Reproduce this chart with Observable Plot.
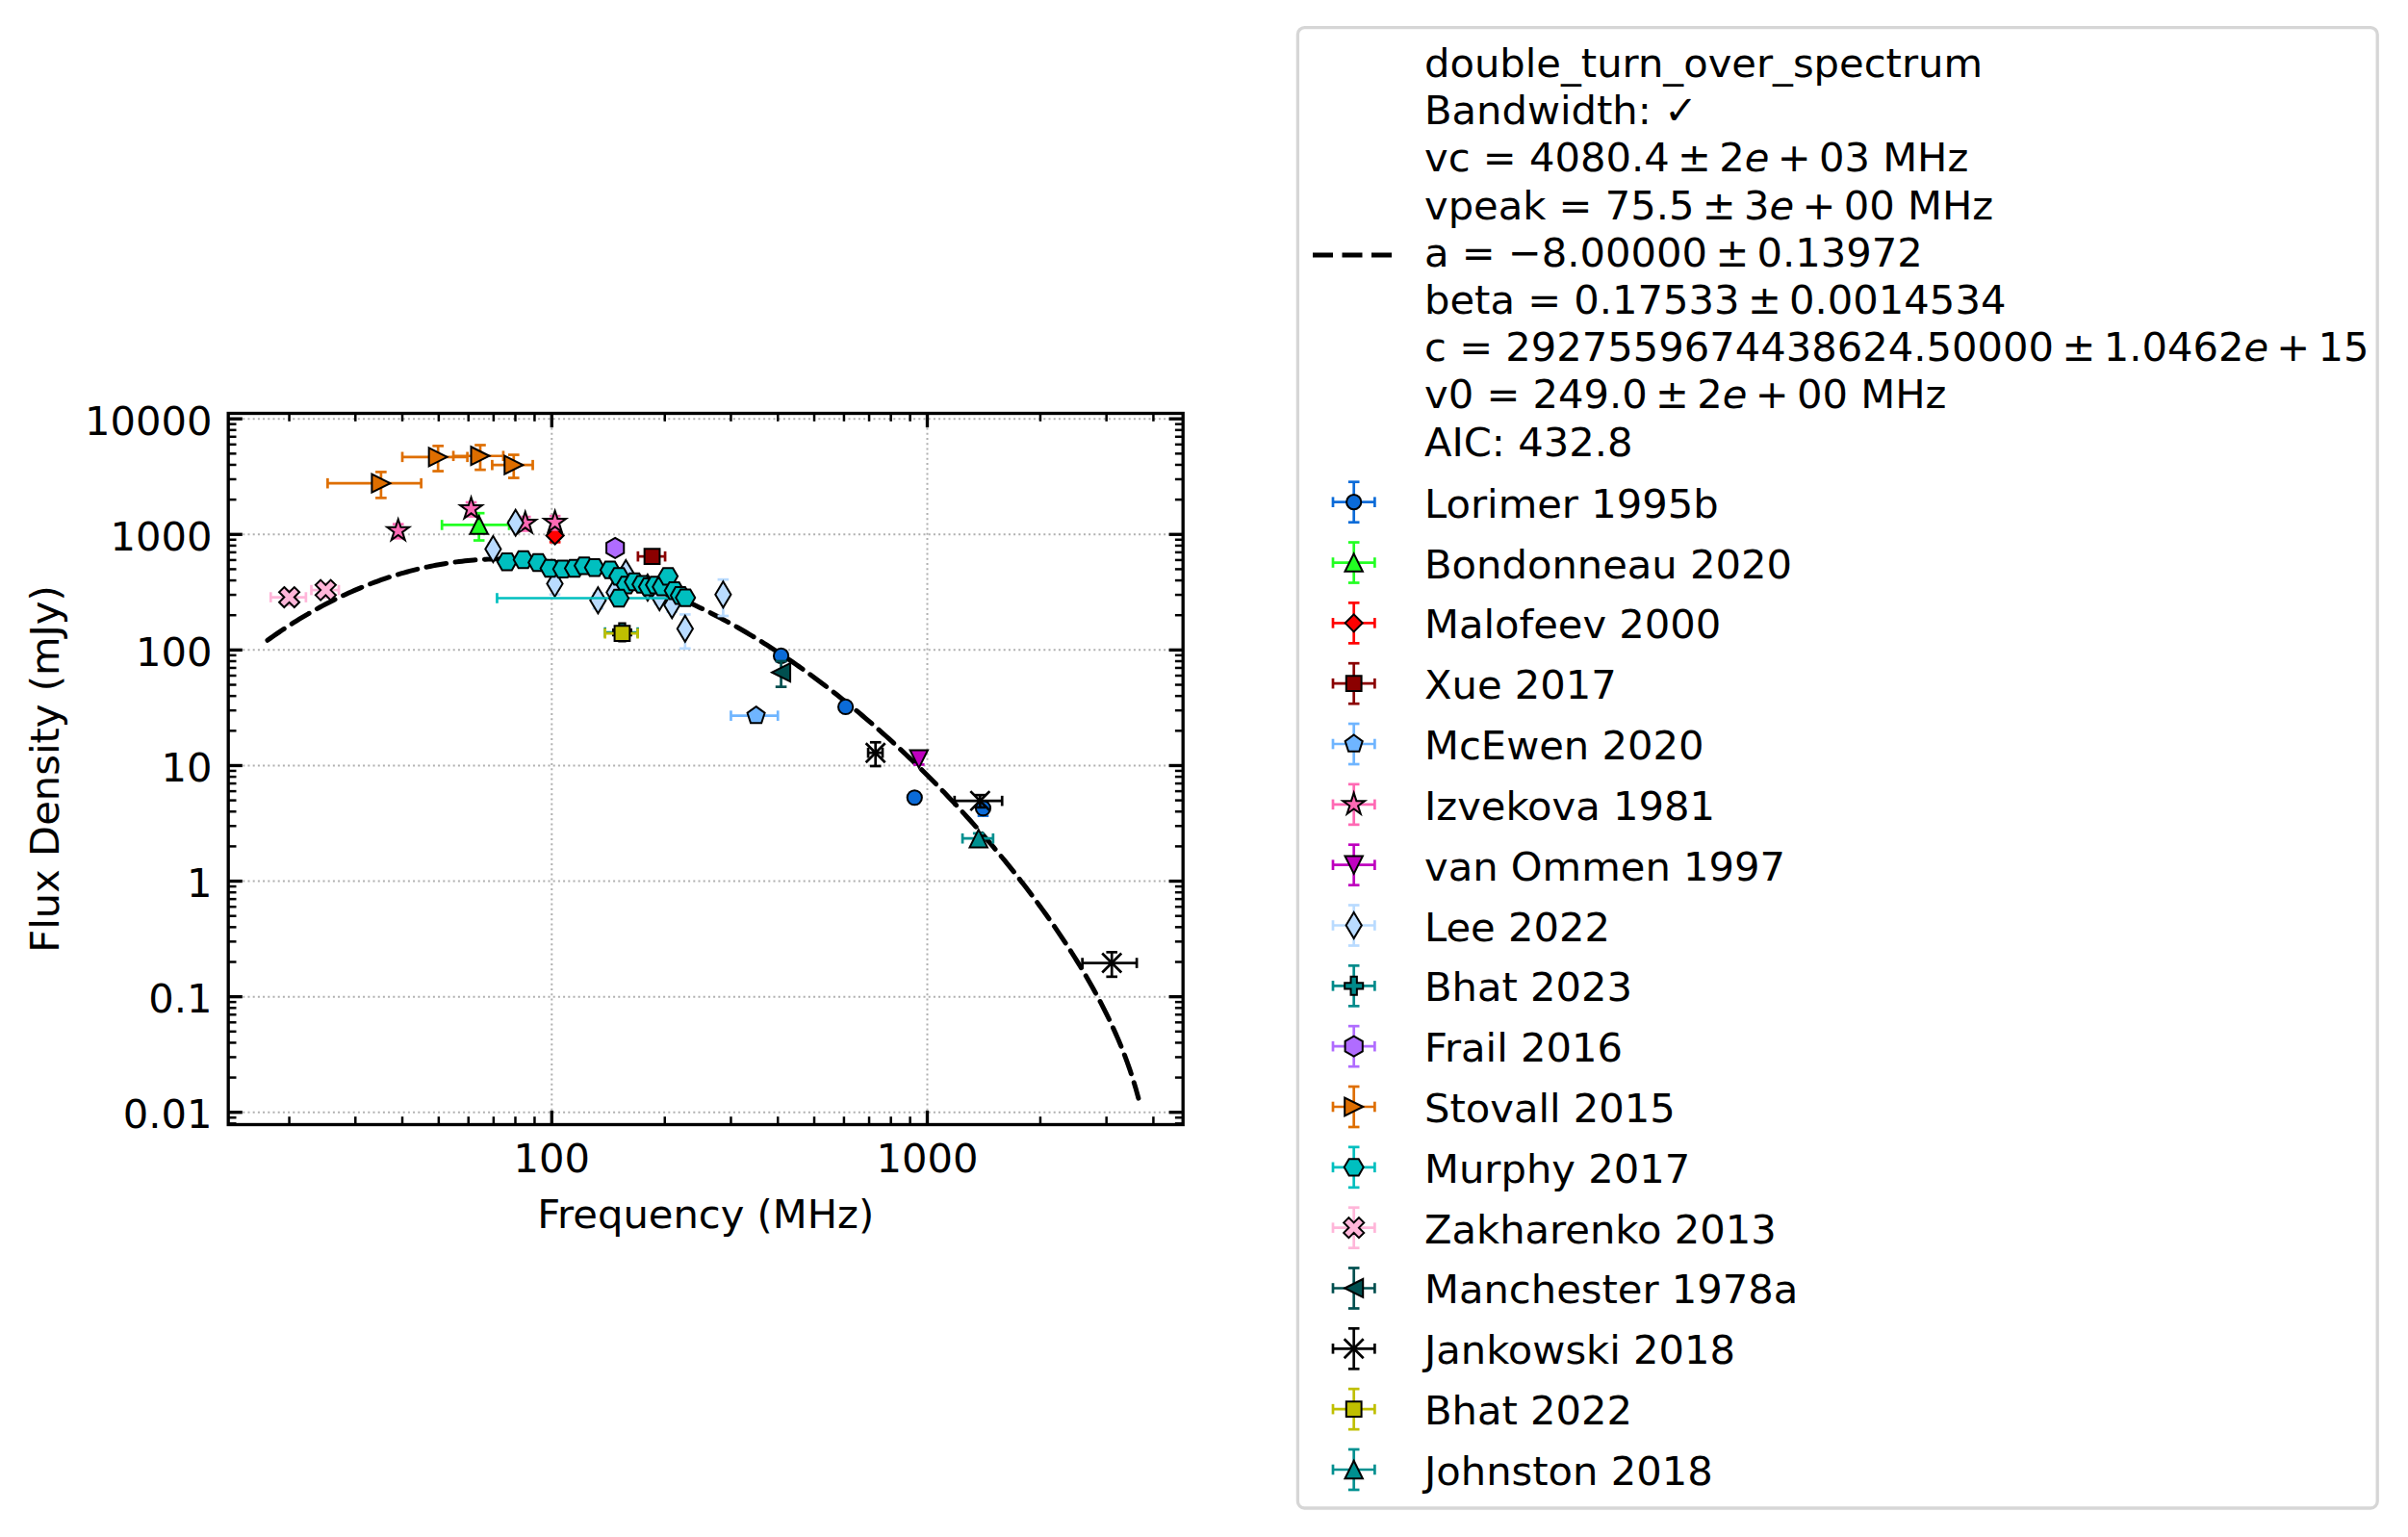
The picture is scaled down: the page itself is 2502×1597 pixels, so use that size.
<!DOCTYPE html>
<html>
<head>
<meta charset="utf-8">
<script src="https://cdn.jsdelivr.net/npm/d3@7"></script>
<script src="https://cdn.jsdelivr.net/npm/@observablehq/plot@0.6"></script>
<style>
  html, body { margin: 0; padding: 0; background: #fff; }
  body { width: 2502px; height: 1597px; position: relative; overflow: hidden; font-family: "DejaVu Sans", sans-serif; }
  #chart { position: absolute; left: 0; top: 0; }
  #legend { position: absolute; left: 0; top: 0; pointer-events: none; }
</style>
</head>
<body>
<div id="chart"></div>
<svg id="legend" width="2502" height="1597"></svg>
<script>
// Flux density measurements per catalogue:
// [frequency (MHz), flux density (mJy), flux error (mJy), half bandwidth (MHz)]
const lorimer1995b = [[408, 89, 9, 0], [606, 32.2, 3, 0], [925, 5.28, 0.5, 0], [1408, 4.28, 0.6, 0]];
const bondonneau2020 = [[64, 1207, 320, 13]];
const malofeev2000 = [[102, 977, 120, 1.5]];
const xue2017 = [[185, 645, 60, 15.36]];
const mcewen2020 = [[350, 27, 3, 50]];
const izvekova1981 = [[39, 1076, 150, 0], [61, 1662, 230, 0], [85, 1247, 170, 0], [102, 1271, 170, 0]];
const vanOmmen1997 = [[950, 11.4, 1.2, 0]];
const lee2022 = [[69.8, 747, 90, 0], [80.1, 1261, 150, 0], [101.9, 375, 73, 0], [132.8, 269, 40, 0],
                 [146.8, 315, 40, 0], [157.5, 462, 50, 0], [180, 347, 40, 0], [193.6, 286, 35, 0],
                 [209, 244, 30, 0], [226.5, 153, 50, 0], [286, 302, 105, 0]];
const bhat2023 = [[154, 142, 14, 15.36]];
const frail2016 = [[147.5, 762, 76, 0]];
const stovall2015 = [[35.1, 2768, 700, 9.8], [49.8, 4677, 1150, 9.8], [64.5, 4774, 1150, 9.8], [79.2, 3983, 900, 9.8]];
const murphy2017 = [[76, 579, 40, 0], [84, 605, 40, 0], [92, 571, 40, 0], [99, 509, 35, 0], [107, 502, 35, 0],
                    [115, 509, 35, 0], [122, 536, 35, 0], [130, 516, 35, 0], [143, 493, 30, 0], [151, 434, 30, 0],
                    [158, 365, 25, 0], [166, 389, 25, 0], [174, 370, 25, 0], [181, 352, 25, 0], [189, 365, 25, 0],
                    [197, 352, 25, 0], [204, 434, 30, 0], [212, 326, 25, 0], [220, 296, 20, 0], [227, 283, 20, 0],
                    [151, 281, 28, 79.5]];
const zakharenko2013 = [[20, 286, 40, 2.15], [25, 330, 45, 2.1]];
const manchester1978a = [[408, 64, 16, 0]];
const jankowski2018 = [[728, 12.9, 3, 32], [1382, 4.95, 0.6, 200], [3100, 0.196, 0.047, 512]];
const bhat2022 = [[154, 139, 14, 15.36]];
const johnston2018 = [[1369, 2.34, 0.25, 128]];

// Catalogue names, in plotting (and legend) order
const catalogueNames = ["Lorimer 1995b", "Bondonneau 2020", "Malofeev 2000", "Xue 2017", "McEwen 2020",
  "Izvekova 1981", "van Ommen 1997", "Lee 2022", "Bhat 2023", "Frail 2016", "Stovall 2015", "Murphy 2017",
  "Zakharenko 2013", "Manchester 1978a", "Jankowski 2018", "Bhat 2022", "Johnston 2018"];
const catalogueData = [lorimer1995b, bondonneau2020, malofeev2000, xue2017, mcewen2020, izvekova1981,
  vanOmmen1997, lee2022, bhat2023, frail2016, stovall2015, murphy2017, zakharenko2013, manchester1978a,
  jankowski2018, bhat2022, johnston2018];

// Fitted double turn-over spectrum parameters
const fitVc = 4080.4;
const fitVpeak = 75.5;
const fitA = -8.0;
const fitBeta = 0.17533;
const fitC = 2927559674438624.5;
const fitV0 = 249.0;
const fitFreqRange = [17.5, 3650];
// "|" toggles italic; "~" is a thin math space around binary operators
const fitLegendLines = [
  "double_turn_over_spectrum",
  "Bandwidth: \u2713",
  "vc = 4080.4~\u00b1~2|e|~+~03 MHz",
  "vpeak = 75.5~\u00b1~3|e|~+~00 MHz",
  "a = \u22128.00000~\u00b1~0.13972",
  "beta = 0.17533~\u00b1~0.0014534",
  "c = 2927559674438624.50000~\u00b1~1.0462|e|~+~15",
  "v0 = 249.0~\u00b1~2|e|~+~00 MHz",
  "AIC: 432.8"
];

// Axis ticks
const xMajorTicks = [100, 1000];
const xTickLabels = ["100", "1000"];
const yMajorTicks = [0.01, 0.1, 1, 10, 100, 1000, 10000];
const yTickLabels = ["0.01", "0.1", "1", "10", "100", "1000", "10000"];

// ---------------------------------------------------------------- styling
const xDomain = [13.76, 4797];
const yDomain = [0.00783, 11150];
const FONT = 41.67;

const styles = {
  "Lorimer 1995b":    {color: "#0b6bd8", shape: "o", r: 7.6},
  "Bondonneau 2020":  {color: "#22ff22", shape: "^", r: 9.2},
  "Malofeev 2000":    {color: "#ff0000", shape: "D", r: 9},
  "Xue 2017":         {color: "#8b0000", shape: "s", r: 7.9},
  "McEwen 2020":      {color: "#6fb5ff", shape: "p", r: 9.5},
  "Izvekova 1981":    {color: "#ff69b4", shape: "*", r: 12},
  "van Ommen 1997":   {color: "#bf00bf", shape: "v", r: 9.2},
  "Lee 2022":         {color: "#b9dbff", shape: "d", r: 13.5},
  "Bhat 2023":        {color: "#008b8b", shape: "P", r: 9.5},
  "Frail 2016":       {color: "#b06cff", shape: "h", r: 10.5},
  "Stovall 2015":     {color: "#de6e00", shape: ">", r: 9.5},
  "Murphy 2017":      {color: "#00bfbf", shape: "H", r: 10},
  "Zakharenko 2013":  {color: "#ffb6d9", shape: "X", r: 10.5},
  "Manchester 1978a": {color: "#004f4f", shape: "<", r: 9.5},
  "Jankowski 2018":   {color: "#000000", shape: "x", r: 10},
  "Bhat 2022":        {color: "#bfbf00", shape: "s", r: 7.9},
  "Johnston 2018":    {color: "#009090", shape: "^", r: 9.2}
};

// Marker outlines (matplotlib-like), drawn with half-size r
function poly(ctx, pts) {
  ctx.moveTo(pts[0][0], pts[0][1]);
  for (let i = 1; i < pts.length; ++i) ctx.lineTo(pts[i][0], pts[i][1]);
  ctx.closePath();
}
function regular(n, r, start) {
  return d3.range(n).map(k => {
    const a = (start + k * 360 / n) * Math.PI / 180;
    return [r * Math.cos(a), r * Math.sin(a)];
  });
}
const paths = {
  "o": (c, r) => { c.moveTo(r, 0); c.arc(0, 0, r, 0, 2 * Math.PI); },
  "^": (c, r) => poly(c, [[0, -r], [r, r], [-r, r]]),
  "v": (c, r) => poly(c, [[0, r], [r, -r], [-r, -r]]),
  ">": (c, r) => poly(c, [[r, 0], [-r, -r], [-r, r]]),
  "<": (c, r) => poly(c, [[-r, 0], [r, -r], [r, r]]),
  "D": (c, r) => poly(c, [[0, -r], [r, 0], [0, r], [-r, 0]]),
  "d": (c, r) => poly(c, [[0, -r], [0.6 * r, 0], [0, r], [-0.6 * r, 0]]),
  "s": (c, r) => poly(c, [[-r, -r], [r, -r], [r, r], [-r, r]]),
  "p": (c, r) => poly(c, regular(5, r, -90)),
  "h": (c, r) => poly(c, regular(6, r, -90)),
  "H": (c, r) => poly(c, regular(6, r, 0)),
  "*": (c, r) => poly(c, d3.range(10).map(k => {
         const a = (-90 + k * 36) * Math.PI / 180, rr = k % 2 ? r * 0.381966 : r;
         return [rr * Math.cos(a), rr * Math.sin(a)];
       })),
  "P": (c, r) => { const t = r / 3; poly(c, [[-t, -r], [t, -r], [t, -t], [r, -t], [r, t], [t, t], [t, r], [-t, r], [-t, t], [-r, t], [-r, -t], [-t, -t]]); },
  "X": (c, r) => poly(c, [[-0.5, -1], [0, -0.5], [0.5, -1], [1, -0.5], [0.5, 0], [1, 0.5], [0.5, 1], [0, 0.5], [-0.5, 1], [-1, 0.5], [-0.5, 0], [-1, -0.5]].map(([x, y]) => [x * r, y * r])),
  "x": (c, r) => { c.moveTo(-r, -r); c.lineTo(r, r); c.moveTo(-r, r); c.lineTo(r, -r); },
  "hcap": (c, r) => { c.moveTo(-r, 0); c.lineTo(r, 0); },
  "vcap": (c, r) => { c.moveTo(0, -r); c.lineTo(0, r); },
  "tickUp": (c, r) => { c.moveTo(0, 0); c.lineTo(0, -r); },
  "tickDown": (c, r) => { c.moveTo(0, 0); c.lineTo(0, r); },
  "tickRight": (c, r) => { c.moveTo(0, 0); c.lineTo(r, 0); },
  "tickLeft": (c, r) => { c.moveTo(0, 0); c.lineTo(-r, 0); }
};
// Symbol objects for Plot: size = pi r^2, so r is recovered as the half-size
const symbolOf = kind => ({draw(ctx, size) { paths[kind](ctx, Math.sqrt(size / Math.PI)); }});

// ---------------------------------------------------------------- fit curve
function doubleTurnOver(v) {
  const x = v / fitV0, xc = v / fitVc, xp = v / fitVpeak;
  return 1000 * fitC * Math.pow(x, fitA) * (1 - xc) * Math.exp(fitA / fitBeta * Math.pow(xp, -fitBeta));
}
const [lf0, lf1] = fitFreqRange.map(Math.log10);
const fitCurve = d3.range(301).map(i => {
  const f = Math.pow(10, lf0 + (lf1 - lf0) * i / 300);
  return {f, s: doubleTurnOver(f)};
});

// ---------------------------------------------------------------- minor ticks
const xMinorTicks = [2, 3, 4, 5, 6, 7, 8, 9].flatMap(m => [10, 100, 1000].map(d => m * d))
  .filter(v => v > xDomain[0] && v < xDomain[1]);
const yMinorTicks = [2, 3, 4, 5, 6, 7, 8, 9].flatMap(m => [0.001, 0.01, 0.1, 1, 10, 100, 1000, 10000].map(d => m * d))
  .filter(v => v > yDomain[0] && v < yDomain[1]);

const ERR_W = 2.7, CAP_Y = 5.8, CAP_X = 5.3, EDGE_W = 2;

// ---------------------------------------------------------------- marks
const marks = [];
// dotted grid at major ticks
marks.push(Plot.ruleX(xMajorTicks, {x: d => d, stroke: "#b0b0b0", strokeWidth: 2, strokeDasharray: "2,3.2"}));
marks.push(Plot.ruleY(yMajorTicks, {y: d => d, stroke: "#b0b0b0", strokeWidth: 2, strokeDasharray: "2,3.2"}));
// fitted model
marks.push(Plot.line(fitCurve, {x: "f", y: "s", stroke: "black", strokeWidth: 5, strokeDasharray: "21,9.5"}));

catalogueNames.forEach((name, k) => {
  const rows = catalogueData[k];
  const st = styles[name];
  const withY = rows.filter(d => d[2] > 0);
  const withX = rows.filter(d => d[3] > 0);
  marks.push(Plot.ruleX(withY, {x: d => d[0], y1: d => d[1] - d[2], y2: d => d[1] + d[2], stroke: st.color, strokeWidth: ERR_W}));
  marks.push(Plot.ruleY(withX, {y: d => d[1], x1: d => d[0] - d[3], x2: d => d[0] + d[3], stroke: st.color, strokeWidth: ERR_W}));
  for (const sgn of [-1, 1]) {
    marks.push(Plot.dot(withY, {x: d => d[0], y: d => d[1] + sgn * d[2], symbol: symbolOf("hcap"), r: CAP_Y, fill: "none", stroke: st.color, strokeWidth: ERR_W}));
    marks.push(Plot.dot(withX, {x: d => d[0] + sgn * d[3], y: d => d[1], symbol: symbolOf("vcap"), r: CAP_X, fill: "none", stroke: st.color, strokeWidth: ERR_W}));
  }
  if (st.shape === "x") {
    marks.push(Plot.dot(rows, {x: d => d[0], y: d => d[1], symbol: symbolOf("x"), r: st.r, fill: "none", stroke: st.color, strokeWidth: ERR_W}));
  } else {
    marks.push(Plot.dot(rows, {x: d => d[0], y: d => d[1], symbol: symbolOf(st.shape), r: st.r, fill: st.color, stroke: "black", strokeWidth: EDGE_W}));
  }
});

// frame and inward ticks on all four sides
marks.push(Plot.frame({stroke: "black", strokeWidth: 3.33}));
for (const [ticks, len, w] of [[xMajorTicks, 14.6, 3.33], [xMinorTicks, 8.3, 2.5]]) {
  marks.push(Plot.dot(ticks, {x: d => d, frameAnchor: "bottom", symbol: symbolOf("tickUp"), r: len, stroke: "black", strokeWidth: w, fill: "none"}));
  marks.push(Plot.dot(ticks, {x: d => d, frameAnchor: "top", symbol: symbolOf("tickDown"), r: len, stroke: "black", strokeWidth: w, fill: "none"}));
}
for (const [ticks, len, w] of [[yMajorTicks, 14.6, 3.33], [yMinorTicks, 8.3, 2.5]]) {
  marks.push(Plot.dot(ticks, {y: d => d, frameAnchor: "left", symbol: symbolOf("tickRight"), r: len, stroke: "black", strokeWidth: w, fill: "none"}));
  marks.push(Plot.dot(ticks, {y: d => d, frameAnchor: "right", symbol: symbolOf("tickLeft"), r: len, stroke: "black", strokeWidth: w, fill: "none"}));
}
// tick labels
marks.push(Plot.text(xMajorTicks, {x: d => d, frameAnchor: "bottom", dy: 49, lineAnchor: "bottom", textAnchor: "middle",
  text: (d, i) => xTickLabels[i], fontSize: FONT, fill: "black"}));
marks.push(Plot.text(yMajorTicks, {y: d => d, frameAnchor: "left", dx: -16.7, dy: 3, textAnchor: "end", lineAnchor: "middle",
  text: (d, i) => yTickLabels[i], fontSize: FONT, fill: "black"}));
// axis titles
marks.push(Plot.text(["Frequency (MHz)"], {frameAnchor: "bottom", dy: 107, lineAnchor: "bottom", textAnchor: "middle",
  text: d => d, fontSize: FONT, fill: "black"}));
marks.push(Plot.text(["Flux Density (mJy)"], {frameAnchor: "left", dx: -176.3, rotate: -90, lineAnchor: "bottom", textAnchor: "middle",
  text: d => d, fontSize: FONT, fill: "black"}));

const chart = Plot.plot({
  width: 1260,
  height: 1298,
  marginLeft: 236.7,
  marginRight: 31.3,
  marginTop: 429,
  marginBottom: 130,
  x: {type: "log", domain: xDomain, axis: null},
  y: {type: "log", domain: yDomain, axis: null},
  style: {fontFamily: "DejaVu Sans", fontSize: FONT + "px", background: "transparent", overflow: "visible", color: "black"},
  marks
});
document.getElementById("chart").appendChild(chart);

// ---------------------------------------------------------------- legend
const lg = d3.select("#legend");
lg.append("rect")
  .attr("x", 1348.4).attr("y", 28.7).attr("width", 1121.8).attr("height", 1538.3)
  .attr("rx", 7).attr("fill", "white").attr("stroke", "#d6d6d6").attr("stroke-width", 3.3);

// fit entry: dashed sample and multi-line description
lg.append("line").attr("x1", 1364).attr("x2", 1447).attr("y1", 265).attr("y2", 265)
  .attr("stroke", "black").attr("stroke-width", 5).attr("stroke-dasharray", "21,9.5");
fitLegendLines.forEach((line, i) => {
  const t = lg.append("text").attr("x", 1480).attr("y", 80 + i * 49.2)
    .attr("font-family", "DejaVu Sans").attr("font-size", FONT).attr("fill", "black")
    .attr("xml:space", "preserve").style("white-space", "pre");
  line.replace(/~/g, "\u2009").split("|").forEach((part, j) => {
    t.append("tspan").attr("font-style", j % 2 ? "italic" : null).text(part);
  });
});

// catalogue entries
const symPath = (kind, r) => d3.symbol(symbolOf(kind), Math.PI * r * r)();
catalogueNames.forEach((name, i) => {
  const st = styles[name];
  const cy = 521.7 + i * 62.83, cx = 1406.7;
  const g = lg.append("g").attr("transform", `translate(${cx},${cy})`);
  g.append("line").attr("x1", -21.7).attr("x2", 21.7).attr("stroke", st.color).attr("stroke-width", ERR_W);
  g.append("line").attr("y1", -21).attr("y2", 21).attr("stroke", st.color).attr("stroke-width", ERR_W);
  for (const s of [-1, 1]) {
    g.append("path").attr("transform", `translate(${s * 21.7},0)`).attr("d", symPath("vcap", CAP_X))
      .attr("stroke", st.color).attr("stroke-width", ERR_W).attr("fill", "none");
    g.append("path").attr("transform", `translate(0,${s * 21})`).attr("d", symPath("hcap", CAP_Y))
      .attr("stroke", st.color).attr("stroke-width", ERR_W).attr("fill", "none");
  }
  if (st.shape === "x") {
    g.append("path").attr("d", symPath("x", st.r)).attr("stroke", st.color).attr("stroke-width", ERR_W).attr("fill", "none");
  } else {
    g.append("path").attr("d", symPath(st.shape, st.r)).attr("fill", st.color).attr("stroke", "black").attr("stroke-width", EDGE_W);
  }
  lg.append("text").attr("x", 1480).attr("y", 537.7 + i * 62.83)
    .attr("font-family", "DejaVu Sans").attr("font-size", FONT).attr("fill", "black").text(name);
});
</script>
</body>
</html>
